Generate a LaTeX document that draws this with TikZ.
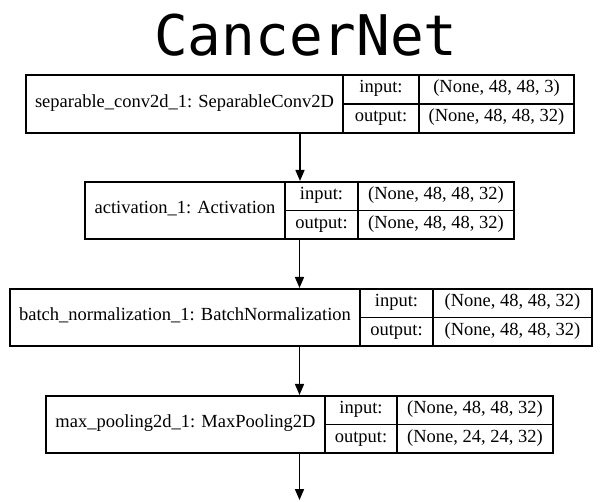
\documentclass[tikz,border=0pt]{standalone}
\usepackage{fontspec}
\setmainfont{Liberation Serif}
\newfontfamily\titlefont{DejaVu Sans Mono}
\usetikzlibrary{arrows.meta}
\begin{document}
\begin{tikzpicture}[x=1pt,y=-1pt,
  layerbox/.style={draw=black, line width=1.6pt, inner sep=0pt, minimum height=57.5pt},
  cellline/.style={line width=1.3pt},
  txt/.style={font=\fontsize{18.5}{20}\selectfont, inner sep=0pt, text height=0.66em, text depth=0pt},
  flow/.style={line width=1.6pt, -{Triangle[length=11pt,width=9pt]}}]
\useasboundingbox (0,0) rectangle (600,501);
\fill[white] (0,0) rectangle (600,501);

\node[font=\titlefont\fontsize{56}{60}\selectfont, anchor=base, inner sep=0pt] (title) at (306,55) {CancerNet};

% Layer 1
\node[layerbox, minimum width=548pt] (L1) at (300,104) {};
\draw[cellline] (343,75) -- (343,133) (419,75) -- (419,133) (343,104) -- (574,104);
\node[txt] (N1) at (184.5,104) {separable\_conv2d\_1: SeparableConv2D};
\node[txt] (I1) at (381,89.5) {input:};
\node[txt] (O1) at (381,118.5) {output:};
\node[txt] (IV1) at (496.5,89.5) {(None, 48, 48, 3)};
\node[txt] (OV1) at (496.5,118.5) {(None, 48, 48, 32)};

% Layer 2
\node[layerbox, minimum width=429pt] (L2) at (299.5,210.5) {};
\draw[cellline] (285,182) -- (285,239) (358,182) -- (358,239) (285,210.5) -- (514,210.5);
\node[txt] (N2) at (185,210.5) {activation\_1: Activation};
\node[txt] (I2) at (321.5,196.25) {input:};
\node[txt] (O2) at (321.5,224.75) {output:};
\node[txt] (IV2) at (436,196.25) {(None, 48, 48, 32)};
\node[txt] (OV2) at (436,224.75) {(None, 48, 48, 32)};

% Layer 3
\node[layerbox, minimum width=582pt] (L3) at (301,317.5) {};
\draw[cellline] (360,289) -- (360,346) (433,289) -- (433,346) (360,317.5) -- (592,317.5);
\node[txt] (N3) at (185,317.5) {batch\_normalization\_1: BatchNormalization};
\node[txt] (I3) at (396.5,303.25) {input:};
\node[txt] (O3) at (396.5,331.75) {output:};
\node[txt] (IV3) at (512.5,303.25) {(None, 48, 48, 32)};
\node[txt] (OV3) at (512.5,331.75) {(None, 48, 48, 32)};

% Layer 4
\node[layerbox, minimum width=507pt] (L4) at (299.5,424.5) {};
\draw[cellline] (325,396) -- (325,453) (397,396) -- (397,453) (325,424.5) -- (553,424.5);
\node[txt] (N4) at (185.5,424.5) {max\_pooling2d\_1: MaxPooling2D};
\node[txt] (I4) at (361,410.25) {input:};
\node[txt] (O4) at (361,438.75) {output:};
\node[txt] (IV4) at (475,410.25) {(None, 48, 48, 32)};
\node[txt] (OV4) at (475,438.75) {(None, 24, 24, 32)};

\coordinate (end) at (299.5,500);

\draw[flow] (L1.south) -- (L1.south |- L2.north);
\draw[flow] (L2.south) -- (L2.south |- L3.north);
\draw[flow] (L3.south -| L2.south) -- (L4.north);
\draw[flow] (L4.south) -- (end);
\end{tikzpicture}
\end{document}
